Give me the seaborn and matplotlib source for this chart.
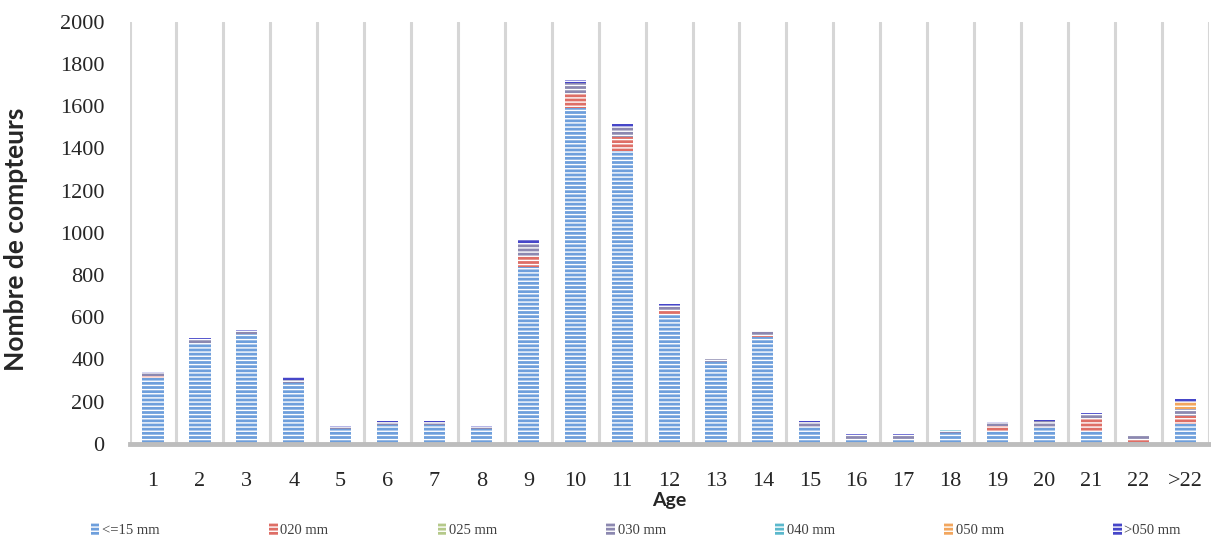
import numpy as np
import pandas as pd
import matplotlib
matplotlib.use("Agg")
import matplotlib.pyplot as plt
import seaborn as sns

# ---- data ----
categories = ['1', '2', '3', '4', '5', '6', '7', '8', '9', '10', '11', '12',
              '13', '14', '15', '16', '17', '18', '19', '20', '21', '22', '>22']
le15 = [310, 480, 520, 290, 70, 90, 90, 70, 840, 1590, 1390, 615, 390, 505,
        80, 20, 20, 50, 60, 75, 60, 10, 95]
s020 = [10, 0, 0, 0, 0, 0, 0, 0, 50, 70, 65, 20, 0, 10, 0, 0, 0, 0, 25, 0, 60, 15, 35]
s025 = [0] * 23
s030 = [15, 15, 15, 15, 10, 15, 15, 10, 60, 50, 45, 20, 10, 20, 25, 20, 20, 10,
        15, 35, 20, 15, 35]
s040 = [0, 0, 0, 0, 0, 0, 0, 0, 0, 0, 0, 0, 0, 0, 0, 0, 0, 5, 0, 0, 0, 0, 0]
s050 = [0] * 22 + [35]
sgt50 = [5, 5, 5, 10, 5, 5, 5, 5, 15, 15, 15, 10, 0, 0, 5, 5, 5, 0, 5, 5, 5, 0, 15]

series_names = ['<=15 mm', '020 mm', '025 mm', '030 mm', '040 mm', '050 mm', '>050 mm']
series_values = [le15, s020, s025, s030, s040, s050, sgt50]
series_colors = ['#6E9FDC', '#DE6E66', '#B5C98A', '#8C88B0', '#5BB8CC', '#F2A65E', '#4646C8']

sns.set_theme(style="white")
plt.rcParams['hatch.linewidth'] = 1.0
plt.rcParams['hatch.color'] = 'white'

fig = plt.figure(figsize=(12.11, 5.46), dpi=100)
ax = fig.add_axes([0.107, 0.187, 0.891, 0.773])

bottom = np.zeros(len(categories))
for name, vals, col in zip(series_names, series_values, series_colors):
    df = pd.DataFrame({'Age': categories, 'n': vals})
    sns.barplot(data=df, x='Age', y='n', order=categories, color=col,
                width=0.45, bottom=bottom.copy(), label=name, ax=ax,
                saturation=1, errorbar=None, edgecolor='white', linewidth=0,
                hatch='----')
    bottom += np.array(vals, dtype=float)

for p in ax.patches:
    p.set_hatch('----')
    p.set_edgecolor('white')
    p.set_linewidth(0)
    p._hatch_color = (1, 1, 1, 1)

if ax.get_legend() is not None:
    ax.get_legend().remove()

ax.set_xlim(-0.5, len(categories) - 0.5)
ax.set_ylim(0, 2000)
ax.set_yticks(np.arange(0, 2001, 200))

# vertical separators between categories
ax.set_xticks(np.arange(-0.5, len(categories), 1), minor=True)
ax.grid(axis='x', which='minor', color='#D6D6D6', linewidth=2.2)
ax.grid(axis='x', which='major', visible=False)
ax.grid(axis='y', visible=False)
ax.set_axisbelow(True)

for s in ['top', 'right', 'left']:
    ax.spines[s].set_visible(False)
ax.spines['bottom'].set_color('#BDBDBD')
ax.spines['bottom'].set_linewidth(3.5)

ax.tick_params(axis='both', which='both', length=0)
ax.tick_params(axis='y', pad=18)
ax.tick_params(axis='x', pad=20)
for lab in ax.get_xticklabels() + ax.get_yticklabels():
    lab.set_fontfamily('Liberation Serif')
    lab.set_fontsize(16)
    lab.set_color('#262626')

ax.set_xlabel('Age', fontfamily='Lato', fontweight='bold', fontsize=14,
              color='#262626')
ax.xaxis.set_label_coords(0.5, -0.115)
ax.set_ylabel('Nombre de compteurs', fontfamily='Lato', fontweight='bold',
              fontsize=19, color='#262626')
ax.yaxis.set_label_coords(-0.094, 0.485)

handles, labels = ax.get_legend_handles_labels()
leg = fig.legend(handles, labels, loc='center', ncol=7,
                 bbox_to_anchor=(0.07, 0.01, 0.91, 0.04), mode='expand',
                 frameon=False, handlelength=0.6, handleheight=0.9,
                 handletextpad=0.2, borderaxespad=0,
                 prop={'family': 'Liberation Serif', 'size': 10.5})
for t in leg.get_texts():
    t.set_color('#404040')

fig.savefig('out.png', dpi=100)
